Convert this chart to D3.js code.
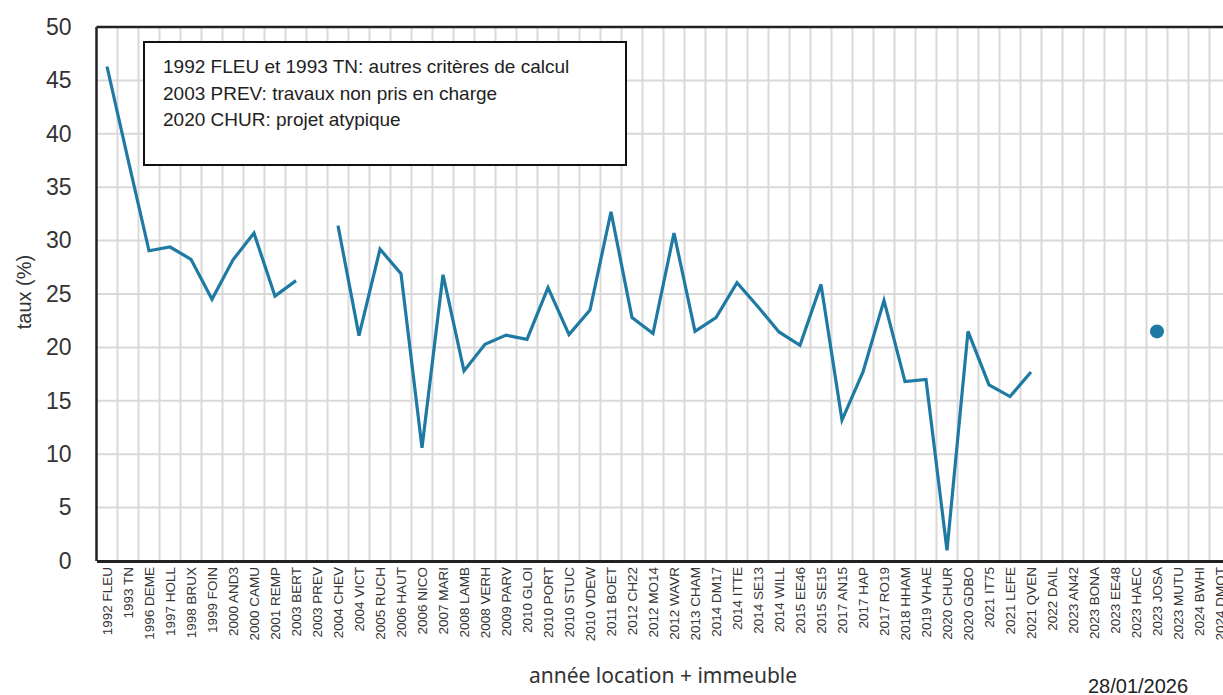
<!DOCTYPE html>
<html>
<head>
<meta charset="utf-8">
<script src="https://cdn.jsdelivr.net/npm/d3@7"></script>
<style>
  body { margin: 0; background: #fff; }
  svg { display: block; font-family: "Liberation Sans", Arial, sans-serif; }
</style>
</head>
<body>
<div id="chart"></div>
<script>
// categories (année + immeuble)
var categories = [
  "1992 FLEU", "1993 TN", "1996 DEME", "1997 HOLL", "1998 BRUX", "1999 FOIN",
  "2000 AND3", "2000 CAMU", "2001 REMP", "2003 BERT", "2003 PREV", "2004 CHEV",
  "2004 VICT", "2005 RUCH", "2006 HAUT", "2006 NICO", "2007 MARI", "2008 LAMB",
  "2008 VERH", "2009 PARV", "2010 GLOI", "2010 PORT", "2010 STUC", "2010 VDEW",
  "2011 BOET", "2012 CH22", "2012 MO14", "2012 WAVR", "2013 CHAM", "2014 DM17",
  "2014 ITTE", "2014 SE13", "2014 WILL", "2015 EE46", "2015 SE15", "2017 AN15",
  "2017 HAP", "2017 RO19", "2018 HHAM", "2019 VHAE", "2020 CHUR", "2020 GDBO",
  "2021 IT75", "2021 LEFE", "2021 QVEN", "2022 DAIL", "2023 AN42", "2023 BONA",
  "2023 EE48", "2023 HAEC", "2023 JOSA", "2023 MUTU", "2024 BWHI", "2024 DMOT"
];

// taux (%) - null = pas de valeur
var taux = [
  46.3, 37.6, 29.05, 29.4, 28.25, 24.5,
  28.2, 30.7, 24.8, 26.25, null, 31.4,
  21.1, 29.2, 26.9, 10.6, 26.8, 17.8,
  20.3, 21.15, 20.75, 25.6, 21.2, 23.5,
  32.7, 22.8, 21.3, 30.7, 21.5, 22.8,
  26.05, 23.8, 21.45, 20.2, 25.9, 13.2,
  17.7, 24.4, 16.8, 17.0, 1.0, 21.5,
  16.5, 15.4, 17.7, null, null, null,
  null, null, 21.5, null, null, null
];

var yTicks = [0, 5, 10, 15, 20, 25, 30, 35, 40, 45, 50];

var notes = [
  "1992 FLEU et 1993 TN: autres critères de calcul",
  "2003 PREV: travaux non pris en charge",
  "2020 CHUR: projet atypique"
];

var data = categories.map(function (c, i) { return { cat: c, v: taux[i] }; });

var W = 1223, H = 695;
var plotLeft = 96.5, plotTop = 27, plotBottom = 561, step = 21;

var svg = d3.select("#chart").append("svg")
  .attr("width", W).attr("height", H);

var x = d3.scaleBand()
  .domain(categories)
  .range([plotLeft, plotLeft + categories.length * step])
  .padding(0);

var y = d3.scaleLinear().domain([0, 50]).range([plotBottom, plotTop]);

// gridlines
var grid = svg.append("g");
grid.selectAll("line.h")
  .data(yTicks.slice(1, -1))
  .enter().append("line")
  .attr("class", "h")
  .attr("x1", plotLeft).attr("x2", W)
  .attr("y1", function (d) { return y(d); })
  .attr("y2", function (d) { return y(d); })
  .attr("stroke", "#d9d9d9").attr("stroke-width", 2);

grid.selectAll("line.v")
  .data(categories)
  .enter().append("line")
  .attr("class", "v")
  .attr("x1", function (d) { return x(d) + x.bandwidth(); })
  .attr("x2", function (d) { return x(d) + x.bandwidth(); })
  .attr("y1", plotTop).attr("y2", plotBottom)
  .attr("stroke", "#d9d9d9").attr("stroke-width", 2);

// frame: top and left
svg.append("line")
  .attr("x1", plotLeft).attr("x2", W).attr("y1", plotTop).attr("y2", plotTop)
  .attr("stroke", "#222").attr("stroke-width", 2.5);
svg.append("line")
  .attr("x1", plotLeft).attr("x2", plotLeft).attr("y1", plotTop).attr("y2", plotBottom)
  .attr("stroke", "#222").attr("stroke-width", 2.5);

// y axis labels
var yAxis = svg.append("g")
  .attr("transform", "translate(" + plotLeft + ",0)")
  .call(d3.axisLeft(y).tickValues(yTicks).tickSize(0).tickPadding(25));
yAxis.select(".domain").remove();
yAxis.selectAll("text")
  .attr("font-size", 23)
  .attr("font-family", "'Liberation Sans', Arial, sans-serif")
  .attr("fill", "#333");

// x axis
var xAxis = svg.append("g")
  .attr("transform", "translate(0," + plotBottom + ")")
  .call(d3.axisBottom(x).tickSize(0));
xAxis.select(".domain")
  .attr("stroke", "#222").attr("stroke-width", 3);
xAxis.selectAll("text")
  .attr("transform", "rotate(-90)")
  .attr("x", -6).attr("y", 0).attr("dy", "0.35em")
  .style("text-anchor", "end")
  .attr("font-size", 13.5)
  .attr("font-family", "'Liberation Sans', Arial, sans-serif")
  .attr("fill", "#333");

// line
var line = d3.line()
  .defined(function (d) { return d.v !== null; })
  .x(function (d) { return x(d.cat) + x.bandwidth() / 2; })
  .y(function (d) { return y(d.v); });

svg.append("path")
  .datum(data)
  .attr("fill", "none")
  .attr("stroke", "#1e7aa3")
  .attr("stroke-width", 3.2)
  .attr("stroke-linejoin", "miter")
  .attr("d", line);

// isolated points (no neighbours)
var isolated = data.filter(function (d, i) {
  return d.v !== null &&
    (i === 0 || data[i - 1].v === null) &&
    (i === data.length - 1 || data[i + 1].v === null);
});
svg.selectAll("circle.pt")
  .data(isolated)
  .enter().append("circle")
  .attr("cx", function (d) { return x(d.cat) + x.bandwidth() / 2; })
  .attr("cy", function (d) { return y(d.v); })
  .attr("r", 7)
  .attr("fill", "#1e7aa3");

// note box
svg.append("rect")
  .attr("x", 144).attr("y", 42).attr("width", 482).attr("height", 123)
  .attr("fill", "#fff").attr("stroke", "#111").attr("stroke-width", 2);

svg.selectAll("text.note")
  .data(notes)
  .enter().append("text")
  .attr("class", "note")
  .attr("x", 163)
  .attr("y", function (d, i) { return 73 + i * 26.5; })
  .attr("font-size", 19)
  .attr("font-family", "'Liberation Sans Narrow', 'Liberation Sans', Arial, sans-serif")
  .attr("fill", "#222")
  .text(function (d) { return d; });

// axis titles
svg.append("text")
  .attr("transform", "translate(31,292) rotate(-90)")
  .attr("text-anchor", "middle")
  .attr("font-size", 20)
  .attr("fill", "#333")
  .text("taux (%)");

svg.append("text")
  .attr("x", 663).attr("y", 683)
  .attr("text-anchor", "middle")
  .attr("font-size", 21)
  .attr("font-family", "'Noto Sans', 'Open Sans', sans-serif")
  .attr("fill", "#333")
  .text("année location + immeuble");

svg.append("text")
  .attr("x", 1088).attr("y", 693)
  .attr("font-size", 20)
  .attr("fill", "#222")
  .text("28/01/2026");
</script>
</body>
</html>
